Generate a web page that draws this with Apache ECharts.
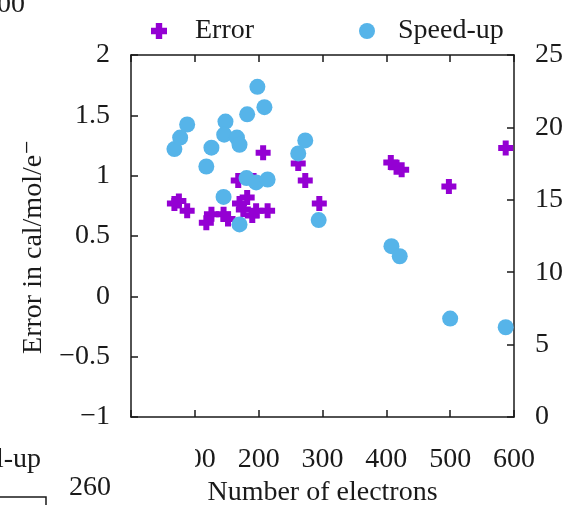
<!DOCTYPE html>
<html>
<head>
<meta charset="utf-8">
<script src="https://cdn.jsdelivr.net/npm/echarts@6/dist/echarts.min.js"></script>
<style>
  html, body { margin: 0; padding: 0; background: #fff; }
  #chart { width: 564px; height: 505px; }
</style>
</head>
<body>
<div id="chart"></div>
<script>
// Error per electron (left axis) against system size
const electronsError = [68, 75, 88, 118, 126, 145, 152, 168, 192, 170, 182, 176, 190, 196, 214, 207, 262, 273, 295, 407, 416, 424, 498, 587];
const errorValues    = [0.77, 0.79, 0.71, 0.61, 0.68, 0.68, 0.64, 0.96, 0.96, 0.77, 0.82, 0.72, 0.67, 0.71, 0.71, 1.19, 1.10, 0.96, 0.77, 1.11, 1.07, 1.05, 0.91, 1.23];

// Speed-up factor (right axis) against system size
const electronsSpeedup = [68, 77, 88, 118, 126, 148, 146, 166, 170, 182, 198, 209, 145, 170, 181, 196, 214, 262, 273, 294, 408, 421, 500, 587];
const speedupValues    = [18.5, 19.3, 20.2, 17.3, 18.6, 20.4, 19.5, 19.3, 18.8, 20.9, 22.8, 21.4, 15.2, 13.3, 16.5, 16.2, 16.4, 18.2, 19.1, 13.6, 11.8, 11.1, 6.8, 6.2];

const xTicks = [0, 100, 200, 300, 400, 500, 600];
const errorTicks = [-1, -0.5, 0, 0.5, 1, 1.5, 2];
const speedupTicks = [0, 5, 10, 15, 20, 25];

const FONT = '"Liberation Serif", "DejaVu Serif", serif';
const FS = 28;
const INK = '#1a1a1a';
const PURPLE = '#9400d3';
const BLUE = '#56b4e9';
const PLUS = 'path://M3,0H7V3H10V7H7V10H3V7H0V3H3Z';

const minus = v => String(v).replace('-', '\u2212');

const errorData = electronsError.map((x, i) => [x, errorValues[i]]);
const speedupData = electronsSpeedup.map((x, i) => [x, speedupValues[i]]);

const axisLine = { show: true, onZero: false, lineStyle: { color: INK, width: 1.5 } };
const tickIn = { show: true, inside: true, length: 7, lineStyle: { color: INK, width: 1.5 } };

const chart = echarts.init(document.getElementById('chart'));
chart.setOption({
  animation: false,
  backgroundColor: '#fff',
  grid: { left: 131, right: 50, top: 55, bottom: 88, containLabel: false, outerBoundsMode: 'none' },
  legend: [
    {
      left: 146, top: 12, itemWidth: 16, itemHeight: 16,
      data: ['Error'],
      textStyle: { fontFamily: FONT, fontSize: FS, color: INK, padding: [0, 0, 0, 23] }
    },
    {
      left: 354, top: 12, itemWidth: 16, itemHeight: 16,
      data: ['Speed-up'],
      textStyle: { fontFamily: FONT, fontSize: FS, color: INK, padding: [0, 0, 0, 18] }
    }
  ],
  xAxis: [
    {
      type: 'value', position: 'bottom',
      min: xTicks[0], max: xTicks[xTicks.length - 1], interval: 100,
      name: 'Number of electrons', nameLocation: 'middle', nameGap: 54,
      nameTextStyle: { fontFamily: FONT, fontSize: FS, color: INK },
      axisLine, axisTick: tickIn, splitLine: { show: false },
      axisLabel: {
        fontFamily: FONT, fontSize: FS, color: INK, margin: 29,
        formatter: v => (v === xTicks[0] ? '' : minus(v))
      }
    },
    {
      type: 'value', position: 'top',
      min: xTicks[0], max: xTicks[xTicks.length - 1], interval: 100,
      axisLine, axisTick: tickIn, splitLine: { show: false },
      axisLabel: { show: false }
    }
  ],
  yAxis: [
    {
      type: 'value', position: 'left',
      min: errorTicks[0], max: errorTicks[errorTicks.length - 1], interval: 0.5,
      name: 'Error in cal/mol/e\u207B', nameLocation: 'middle', nameGap: 83,
      nameTextStyle: { fontFamily: FONT, fontSize: FS, color: INK, padding: [0, 22, 0, 0] },
      axisLine, axisTick: tickIn, splitLine: { show: false },
      axisLabel: { fontFamily: FONT, fontSize: FS, color: INK, margin: 21, formatter: minus }
    },
    {
      type: 'value', position: 'right',
      min: speedupTicks[0], max: speedupTicks[speedupTicks.length - 1], interval: 5,
      axisLine, axisTick: tickIn, splitLine: { show: false },
      axisLabel: { fontFamily: FONT, fontSize: FS, color: INK, margin: 21 }
    }
  ],
  series: [
    {
      name: 'Error', type: 'scatter', xAxisIndex: 0, yAxisIndex: 0,
      symbol: PLUS, symbolSize: 15,
      itemStyle: { color: PURPLE, opacity: 1 },
      data: errorData, z: 2
    },
    {
      name: 'Speed-up', type: 'scatter', xAxisIndex: 0, yAxisIndex: 1,
      symbol: 'circle', symbolSize: 16,
      itemStyle: { color: BLUE, opacity: 1 },
      data: speedupData, z: 3
    }
  ],
  graphic: [
    // neighbouring panel overlapping the left end of the tick labels
    { type: 'rect', left: 0, top: 440, shape: { width: 195, height: 34 }, style: { fill: '#fff' }, z: 100 },
    { type: 'text', left: -3, top: -9, style: { text: '00', font: FS + 'px ' + FONT, fill: INK }, z: 101 },
    { type: 'text', left: -4, top: 446, style: { text: 'l-up', font: FS + 'px ' + FONT, fill: INK }, z: 101 },
    { type: 'text', left: 69, top: 474, style: { text: '260', font: FS + 'px ' + FONT, fill: INK }, z: 101 },
    { type: 'polyline', shape: { points: [[0, 497], [46, 497], [46, 505]] }, style: { stroke: INK, lineWidth: 1.5, fill: null }, z: 101 }
  ]
});
</script>
</body>
</html>
